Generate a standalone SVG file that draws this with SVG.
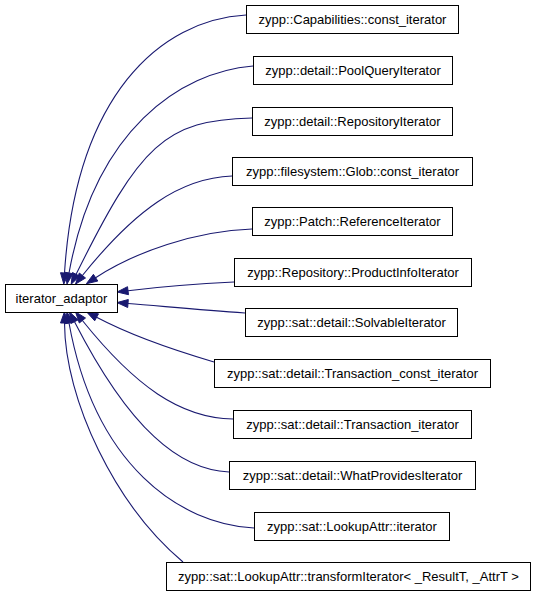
<svg xmlns="http://www.w3.org/2000/svg" width="544" height="595" viewBox="0 0 544 595">
<style>
.node rect{fill:#fff;stroke:#000;stroke-width:1}
.node text{font-family:"Liberation Sans",Arial,sans-serif;font-size:13px;text-anchor:middle;fill:#000}
.edge path{fill:none;stroke:#191970;stroke-width:1.1}
.edge polygon{fill:#191970;stroke:#191970;stroke-width:1}
</style>
<rect width="544" height="595" fill="#fff"/>
<g id="connectors">
<g class="edge" id="e1"><path d="M246,15 C160,20 76,95 64.5,273"/><polygon points="68.5,273.3 60.5,272.7 63.8,284"/></g>
<g class="edge" id="e2"><path d="M253,66 C180,72 95,130 69,273"/><polygon points="72.9,273.7 65.1,272.3 67,284"/></g>
<g class="edge" id="e3"><path d="M252,118 C165,120 140,145 76.1,274.3"/><polygon points="79.7,276.1 72.5,272.5 71.2,284.2"/></g>
<g class="edge" id="e4"><path d="M232,176 C180,178 135,210 82.4,275.5"/><polygon points="85.5,278 79.3,273 75.5,284.1"/></g>
<g class="edge" id="e5"><path d="M252,229 C195,231 135,252 95.6,277.7"/><polygon points="97.8,281.05 93.4,274.35 86.4,283.7"/></g>
<g class="edge" id="e6"><path d="M234,282 C190,284 150,288 128,290.7"/><polygon points="128.5,294.7 127.5,286.7 117.1,292"/></g>
<g class="edge" id="e7"><path d="M245,313 C200,310 160,306 128,303.5"/><polygon points="127.7,307.5 128.3,299.5 117,302.6"/></g>
<g class="edge" id="e8"><path d="M214,362 C180,352 130,335 96.6,317.3"/><polygon points="98.5,313.8 94.7,320.8 86.9,312.2"/></g>
<g class="edge" id="e9"><path d="M233,419 C180,418 135,386 82.4,320.5"/><polygon points="85.5,318 79.3,323 75.5,311.9"/></g>
<g class="edge" id="e10"><path d="M229,472 C180,470 130,430 74.5,321.7"/><polygon points="78.1,319.9 70.9,323.5 69.5,311.9"/></g>
<g class="edge" id="e11"><path d="M254,528 C180,524 95,466 69,323"/><polygon points="72.9,322.3 65.1,323.7 67,312"/></g>
<g class="edge" id="e12"><path d="M183,562 C115,505 65,400 64.5,323"/><polygon points="68.5,323 60.5,323 64.4,312"/></g>
</g>
<g class="node" id="n0"><rect x="5.5" y="284.5" width="112" height="28"/><text x="61.5" y="303">iterator_adaptor</text></g>
<g class="node" id="n1"><rect x="246.5" y="5.5" width="212" height="28"/><text x="352.5" y="24">zypp::Capabilities::const_iterator</text></g>
<g class="node" id="n2"><rect x="253.5" y="56.5" width="199" height="28"/><text x="353" y="75">zypp::detail::PoolQueryIterator</text></g>
<g class="node" id="n3"><rect x="252.5" y="107.5" width="200" height="28"/><text x="352.5" y="126">zypp::detail::RepositoryIterator</text></g>
<g class="node" id="n4"><rect x="232.5" y="157.5" width="240" height="28"/><text x="352.5" y="176">zypp::filesystem::Glob::const_iterator</text></g>
<g class="node" id="n5"><rect x="252.5" y="207.5" width="200" height="28"/><text x="352.5" y="226">zypp::Patch::ReferenceIterator</text></g>
<g class="node" id="n6"><rect x="234.5" y="258.5" width="237" height="28"/><text x="353" y="277">zypp::Repository::ProductInfoIterator</text></g>
<g class="node" id="n7"><rect x="245.5" y="308.5" width="212" height="28"/><text x="351.5" y="327">zypp::sat::detail::SolvableIterator</text></g>
<g class="node" id="n8"><rect x="214.5" y="359.5" width="276" height="28"/><text x="352.5" y="378">zypp::sat::detail::Transaction_const_iterator</text></g>
<g class="node" id="n9"><rect x="233.5" y="410.5" width="238" height="28"/><text x="352.5" y="429">zypp::sat::detail::Transaction_iterator</text></g>
<g class="node" id="n10"><rect x="229.5" y="461.5" width="246" height="28"/><text x="352.5" y="480">zypp::sat::detail::WhatProvidesIterator</text></g>
<g class="node" id="n11"><rect x="254.5" y="512.5" width="195" height="28"/><text x="352" y="531">zypp::sat::LookupAttr::iterator</text></g>
<g class="node" id="n12"><rect x="166.5" y="562.5" width="364" height="28"/><text x="348.5" y="581">zypp::sat::LookupAttr::transformIterator&lt; _ResultT, _AttrT &gt;</text></g>
</svg>
